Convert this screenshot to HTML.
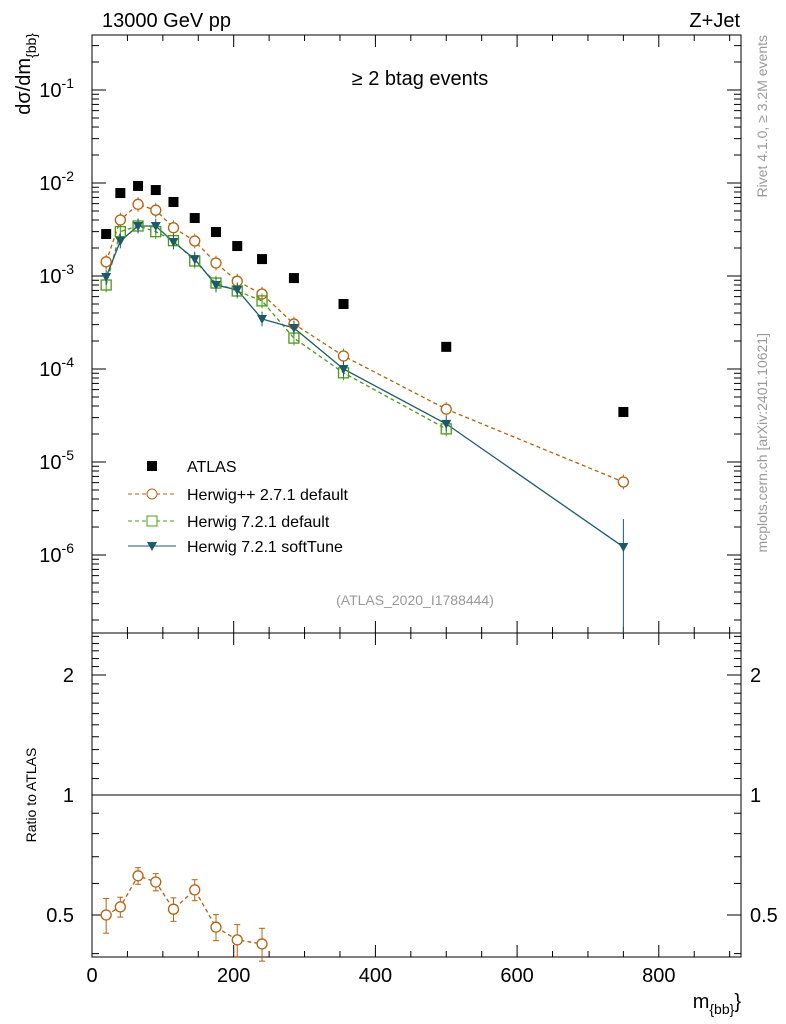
<!DOCTYPE html>
<html><head><meta charset="utf-8"><style>
body{margin:0;background:#fff;}
svg{display:block;font-family:"Liberation Sans",sans-serif;}
</style></head><body>
<svg id="c" width="786" height="1024" xmlns="http://www.w3.org/2000/svg"></svg>
<script>
const xCenters=[20,40,65,90,115,145,175,205,240,285,355,500,750];
const atlas=[2.83e-3,7.8e-3,9.3e-3,8.4e-3,6.25e-3,4.2e-3,2.97e-3,2.1e-3,1.52e-3,9.5e-4,5.0e-4,1.73e-4,3.45e-5];
const hpp=[1.42e-3,4.0e-3,5.9e-3,5.1e-3,3.3e-3,2.38e-3,1.38e-3,8.8e-4,6.4e-4,3.05e-4,1.38e-4,3.7e-5,6.1e-6];
const h721=[8.0e-4,3.0e-3,3.45e-3,3.0e-3,2.4e-3,1.45e-3,8.4e-4,6.9e-4,5.4e-4,2.15e-4,9.1e-5,2.27e-5];
const soft=[9.75e-4,2.38e-3,3.45e-3,3.45e-3,2.32e-3,1.52e-3,8.0e-4,7.1e-4,3.45e-4,2.76e-4,1.0e-4,2.57e-5,1.22e-6];
const ratioHpp=[0.50,0.524,0.627,0.605,0.517,0.578,0.466,0.433,0.423];
const ratioErr=[0.05,0.03,0.03,0.03,0.035,0.035,0.035,0.04,0.04];
const xTicks=[0,200,400,600,800];
const yExp=[-1,-2,-3,-4,-5,-6];
const rTicks=[0.5,1,2];

const NS="http://www.w3.org/2000/svg";
const svg=document.getElementById('c');
const L=92,R=741,T=35,MB=633,RB=957;
const X=v=>L+v*0.7085;
const Y=v=>90-(Math.log10(v)+1)*93;
const YR=v=>795-Math.log10(v)*398.6;
function el(tag,attrs,parent){const e=document.createElementNS(NS,tag);for(const k in attrs)e.setAttribute(k,attrs[k]);(parent||svg).appendChild(e);return e;}
function txt(x,y,s,attrs){const t=el('text',Object.assign({x:x,y:y,'font-size':20,fill:'#000'},attrs||{}));t.textContent=s;return t;}

let f1=el('rect',{x:L,y:T,width:R-L,height:MB-T,fill:'none',stroke:'#000','stroke-width':1});


let f2=el('rect',{x:L,y:MB,width:R-L,height:RB-MB,fill:'none',stroke:'#000','stroke-width':1});



for(let v=0;v<=900;v+=50){
  const major=v%200===0, len=major?12:6;
  for(const [yb,yt] of [[MB,T],[RB,MB]]){
    el('line',{x1:X(v),x2:X(v),y1:yb,y2:yb-len,stroke:'#000'});
    el('line',{x1:X(v),x2:X(v),y1:yt,y2:yt+len,stroke:'#000'});
  }
}
xTicks.forEach(v=>{const t=txt(X(v),982,String(v),{'text-anchor':'middle'});
  });

for(let e=-7;e<=-1;e++){
  for(let m=1;m<10;m++){
    const v=m*Math.pow(10,e), y=Y(v);
    if(y<T||y>MB)continue;
    const len=m===1?14:7;
    el('line',{x1:L,x2:L+len,y1:y,y2:y,stroke:'#000'});
    el('line',{x1:R,x2:R-len,y1:y,y2:y,stroke:'#000'});
  }
}
yExp.forEach(e=>{const t=el('text',{x:74,y:Y(Math.pow(10,e))+7,'font-size':20,'text-anchor':'end'});
  
  t.innerHTML='10<tspan dy="-9" font-size="14">'+e+'</tspan>';});

for(let v=0.4;v<=2.5001;v+=0.1){
  const y=YR(v); if(y<MB||y>RB)continue;
  const major=[0.5,1,2].some(q=>Math.abs(q-v)<1e-6);
  const len=major?14:7;
  el('line',{x1:L,x2:L+len,y1:y,y2:y,stroke:'#000'});
  el('line',{x1:R,x2:R-len,y1:y,y2:y,stroke:'#000'});
}
rTicks.forEach(v=>{const s=String(v);
  let t=txt(74,YR(v)+7,s,{'text-anchor':'end'});
  t=txt(750,YR(v)+7,s);});
el('line',{x1:L,x2:R,y1:YR(1),y2:YR(1),stroke:'#000'});

let t;
t=txt(102,27,'13000 GeV pp');
t=txt(740,27,'Z+Jet',{'text-anchor':'end'});
t=txt(420,85,'\u2265 2 btag events',{'text-anchor':'middle'});
t=txt(415,605,'(ATLAS_2020_I1788444)',{'text-anchor':'middle','font-size':14,fill:'#999'});
t=el('text',{x:0,y:0,'font-size':20,'text-anchor':'end',transform:'translate(30,33) rotate(-90)'});
t.innerHTML='d\u03c3/dm<tspan dy="6" font-size="14">{bb}</tspan>';
t=el('text',{x:0,y:0,'font-size':14,'text-anchor':'middle',transform:'translate(36,795) rotate(-90)'});
t.textContent='Ratio to ATLAS';
t=el('text',{x:741,y:1008,'font-size':20,'text-anchor':'end'});
t.innerHTML='m<tspan dy="6" font-size="14">{bb}</tspan><tspan dy="-6">}</tspan>';
t=el('text',{x:0,y:0,'font-size':14,fill:'#999','text-anchor':'end',transform:'translate(767,35) rotate(-90)'});
t.textContent='Rivet 4.1.0, \u2265 3.2M events';
t=el('text',{x:0,y:0,'font-size':14,fill:'#999','text-anchor':'end',transform:'translate(767,333) rotate(-90)'});
t.textContent='mcplots.cern.ch [arXiv:2401.10621]';

function line(vals,yf,color,dash,name){
  const pts=vals.map((v,i)=>X(xCenters[i])+','+yf(v)).join(' ');
  const p=el('polyline',{points:pts,fill:'none',stroke:color,'stroke-width':1.3,'stroke-dasharray':dash||'none'});
  
}
line(hpp,Y,'#b8600e','4,3','herwigpp-line');
line(h721,Y,'#4a9a1a','4,3','herwig721-line');
line(soft,Y,'#1c5a6a','','softtune-line');
line(ratioHpp,YR,'#b8600e','4,3','ratio-herwigpp-line');

atlas.forEach((v,i)=>{const r=el('rect',{x:X(xCenters[i])-5,y:Y(v)-5,width:10,height:10,fill:'#000'});
  });
hpp.forEach((v,i)=>{const x=X(xCenters[i]),y=Y(v);
  el('line',{x1:x,x2:x,y1:Y(v*1.2),y2:Y(v/1.2),stroke:'#b8600e'});
  const c=el('circle',{cx:x,cy:y,r:5,fill:'#fff',stroke:'#b8600e','stroke-width':1.3});
  });
h721.forEach((v,i)=>{const x=X(xCenters[i]),y=Y(v);
  el('line',{x1:x,x2:x,y1:Y(v*1.2),y2:Y(v/1.2),stroke:'#4a9a1a'});
  const c=el('rect',{x:x-5,y:y-5,width:10,height:10,fill:'none',stroke:'#4a9a1a','stroke-width':1.3});
  });
soft.forEach((v,i)=>{const x=X(xCenters[i]),y=Y(v);
  const lo=i===soft.length-1?MB:Y(v/1.2);
  el('line',{x1:x,x2:x,y1:i===soft.length-1?Y(v*2):Y(v*1.2),y2:lo,stroke:'#1c5a6a'});
  const c=el('polygon',{points:(x-5)+','+(y-4)+' '+(x+5)+','+(y-4)+' '+x+','+(y+5),fill:'#1c5a6a'});
  });
ratioHpp.forEach((v,i)=>{const x=X(xCenters[i]),y=YR(v);
  el('line',{x1:x,x2:x,y1:YR(v+ratioErr[i]),y2:YR(v-ratioErr[i]),stroke:'#b8600e'});
  el('line',{x1:x-3,x2:x+3,y1:YR(v+ratioErr[i]),y2:YR(v+ratioErr[i]),stroke:'#b8600e'});
  el('line',{x1:x-3,x2:x+3,y1:YR(v-ratioErr[i]),y2:YR(v-ratioErr[i]),stroke:'#b8600e'});
  const c=el('circle',{cx:x,cy:y,r:5,fill:'#fff',stroke:'#b8600e','stroke-width':1.3});
  });

const lg=el('g',{});

const rows=[['ATLAS',466],['Herwig++ 2.7.1 default',494],['Herwig 7.2.1 default',521],['Herwig 7.2.1 softTune',546]];
rows.forEach(([s,y],i)=>{
  const tt=txt(187,y+6,s,{'font-size':16});lg.appendChild(tt);
});
el('rect',{x:147,y:461,width:10,height:10,fill:'#000'},lg);
el('line',{x1:128,x2:176,y1:494,y2:494,stroke:'#b8600e','stroke-dasharray':'4,3'},lg);
el('circle',{cx:152,cy:494,r:5,fill:'#fff',stroke:'#b8600e'},lg);
el('line',{x1:128,x2:176,y1:521,y2:521,stroke:'#4a9a1a','stroke-dasharray':'4,3'},lg);
el('rect',{x:147,y:516,width:10,height:10,fill:'#fff',stroke:'#4a9a1a'},lg);
el('line',{x1:128,x2:176,y1:546,y2:546,stroke:'#1c5a6a'},lg);
el('polygon',{points:'147,542 157,542 152,551',fill:'#1c5a6a'},lg);
</script>
</body></html>
